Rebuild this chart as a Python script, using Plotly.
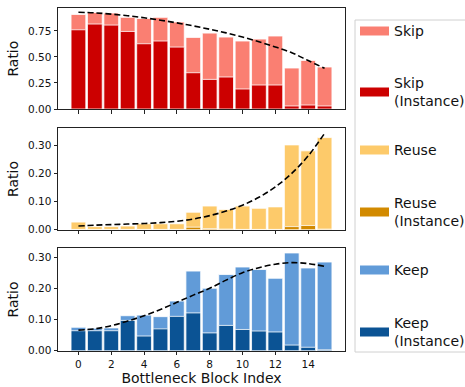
import plotly.graph_objects as go

# ---------------- data ----------------
blocks = list(range(16))

skip_total = [0.907, 0.926, 0.920, 0.879, 0.869, 0.879, 0.834, 0.687, 0.728, 0.690, 0.652, 0.671, 0.700, 0.393, 0.466, 0.403]
skip_inst = [0.760, 0.815, 0.805, 0.744, 0.626, 0.652, 0.594, 0.348, 0.284, 0.307, 0.192, 0.230, 0.230, 0.029, 0.038, 0.029]
skip_trend = [0.928, 0.922, 0.910, 0.895, 0.875, 0.852, 0.826, 0.797, 0.765, 0.730, 0.690, 0.645, 0.595, 0.540, 0.465, 0.390]

reuse_total = [0.027, 0.011, 0.011, 0.013, 0.021, 0.021, 0.021, 0.062, 0.084, 0.072, 0.084, 0.076, 0.081, 0.301, 0.280, 0.327]
reuse_inst = [0.001, 0.001, 0.001, 0.001, 0.001, 0.001, 0.001, 0.009, 0.004, 0.002, 0.001, 0.001, 0.001, 0.011, 0.015, 0.002]
reuse_trend = [0.013, 0.016, 0.018, 0.020, 0.022, 0.025, 0.030, 0.038, 0.050, 0.066, 0.087, 0.115, 0.152, 0.200, 0.262, 0.342]

keep_total = [0.075, 0.072, 0.073, 0.112, 0.114, 0.109, 0.159, 0.255, 0.200, 0.244, 0.268, 0.260, 0.232, 0.313, 0.265, 0.284]
keep_inst = [0.064, 0.064, 0.064, 0.097, 0.047, 0.070, 0.110, 0.121, 0.057, 0.081, 0.068, 0.063, 0.060, 0.018, 0.011, 0.003]
keep_trend = [0.066, 0.070, 0.080, 0.095, 0.112, 0.132, 0.155, 0.178, 0.200, 0.226, 0.250, 0.266, 0.277, 0.282, 0.279, 0.270]

x_ticks = [0, 2, 4, 6, 8, 10, 12, 14]
legend_labels = ["Skip", "Skip<br>(Instance)", "Reuse", "Reuse<br>(Instance)", "Keep", "Keep<br>(Instance)"]

# ---------------- style ----------------
C_SKIP, C_SKIP_I = "#fa7f72", "#cc0000"
C_REUSE, C_REUSE_I = "#fdca6a", "#d28a00"
C_KEEP, C_KEEP_I = "#619bd8", "#0b5394"
FONT = "DejaVu Sans"
W, H = 465, 387

fig = go.Figure()

panels = [
    (skip_total, skip_inst, skip_trend, C_SKIP, C_SKIP_I, "Skip", "x", "y"),
    (reuse_total, reuse_inst, reuse_trend, C_REUSE, C_REUSE_I, "Reuse", "x2", "y2"),
    (keep_total, keep_inst, keep_trend, C_KEEP, C_KEEP_I, "Keep", "x3", "y3"),
]
for tot, inst, trend, c1, c2, name, xa, ya in panels:
    fig.add_trace(go.Bar(x=blocks, y=tot, width=0.9, marker=dict(color=c1, line=dict(color="white", width=0.8)),
                         name=name, showlegend=False, xaxis=xa, yaxis=ya))
    fig.add_trace(go.Bar(x=blocks, y=inst, width=0.9, marker=dict(color=c2, line=dict(color="white", width=0.8)),
                         name=name + " (Instance)", showlegend=False, xaxis=xa, yaxis=ya))
    fig.add_trace(go.Scatter(x=blocks, y=trend, mode="lines", line=dict(color="black", width=1.6, dash="6px,3px"),
                             line_shape="spline", showlegend=False, xaxis=xa, yaxis=ya, hoverinfo="skip"))

x0, x1 = 58 / W, 345 / W
doms = [(1 - 109 / H, 1 - 8.3 / H), (1 - 229.7 / H, 1 - 128.3 / H), (1 - 350.7 / H, 1 - 248.3 / H)]
yranges = [[0, 0.966], [0, 0.36], [0, 0.328]]
dticks = [0.25, 0.1, 0.1]

axis_common = dict(showline=True, linecolor="#222", linewidth=1, mirror=True, ticks="outside", ticklen=3.5,
                   tickwidth=1, tickcolor="#222", showgrid=False, zeroline=False, automargin=False,
                   tickfont=dict(family=FONT, size=10.5, color="#111"))

layout = dict(width=W, height=H, margin=dict(l=0, r=0, t=0, b=0, pad=0), plot_bgcolor="white", paper_bgcolor="white",
              barmode="overlay", showlegend=False, font=dict(family=FONT, color="#111"))
for i in range(3):
    sfx = "" if i == 0 else str(i + 1)
    layout["xaxis" + sfx] = dict(domain=[x0, x1], range=[-1.245, 16.245], tickmode="array", tickvals=x_ticks,
                                 showticklabels=(i == 2), anchor="y" + sfx, **axis_common)
    layout["yaxis" + sfx] = dict(domain=list(doms[i]), range=yranges[i], dtick=dticks[i], tick0=0, tickformat=".2f",
                                 anchor="x" + sfx,
                                 title=dict(text="Ratio", font=dict(family=FONT, size=14, color="#111"), standoff=6),
                                 **axis_common)
layout["xaxis3"]["title"] = dict(text="Bottleneck Block Index", font=dict(family=FONT, size=14, color="#111"), standoff=4)
fig.update_layout(**layout)

# ---------------- legend (drawn as patches + text) ----------------
shapes = [dict(type="rect", xref="paper", yref="paper", x0=355 / W, x1=1.05, y0=1 - 352 / H, y1=1 - 20 / H,
               line=dict(color="#d0d0d0", width=1), fillcolor="white", layer="below")]
colors = [C_SKIP, C_SKIP_I, C_REUSE, C_REUSE_I, C_KEEP, C_KEEP_I]
centers = [31, 92, 150, 212, 270, 332]
annotations = []
for lab, col, cy in zip(legend_labels, colors, centers):
    shapes.append(dict(type="rect", xref="paper", yref="paper", x0=360 / W, x1=389 / W,
                       y0=1 - (cy + 4.5) / H, y1=1 - (cy - 4.5) / H, line=dict(width=0), fillcolor=col))
    annotations.append(dict(xref="paper", yref="paper", x=392 / W, y=1 - cy / H, xanchor="left", yanchor="middle",
                            text=lab, showarrow=False, align="left",
                            font=dict(family=FONT, size=14, color="#111")))
fig.update_layout(shapes=shapes, annotations=annotations)

fig.write_html("out.html", config={"displayModeBar": False},
               post_script="document.body.style.margin='0';document.body.style.overflow='hidden';")
